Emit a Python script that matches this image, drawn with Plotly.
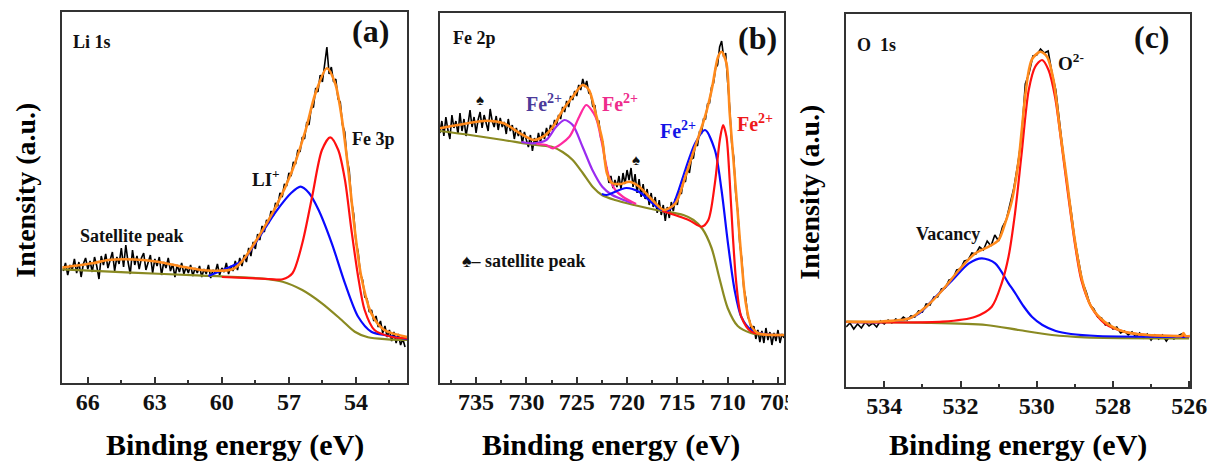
import numpy as np
import plotly.graph_objects as go

FONT = "Liberation Serif, Times New Roman, serif"
W, H = 1231, 466

# ---------------- Panel (a): Li 1s ----------------
A_RAW_START, A_RAW_STEP = 67.1, -0.1
A_RAW_I = [112, 120, 108, 118, 113, 124, 110, 121, 106, 119,
           125, 114, 122, 111, 126, 117, 104, 127, 118, 129,
           115, 124, 131, 112, 126, 119, 135, 116, 138, 121,
           109, 133, 118, 127, 114, 125, 130, 113, 122, 128,
           110, 124, 117, 126, 108, 121, 115, 125, 112, 119,
           106, 118, 111, 120, 109, 116, 110, 118, 107, 115,
           110, 117, 106, 114, 109, 118, 105, 113, 110, 119,
           108, 115, 111, 120, 109, 117, 112, 122, 113, 125,
           117, 128, 121, 135, 127, 141, 134, 149, 143, 157,
           151, 163, 160, 172, 167, 180, 177, 190, 186, 199,
           197, 210, 207, 221, 219, 233, 231, 246, 244, 261,
           258, 275, 276, 295, 291, 308, 301, 318, 336, 309,
           316, 301, 304, 284, 281, 258, 251, 224, 213, 182,
           169, 141, 131, 109, 103, 86, 84, 71, 73, 62,
           67, 56, 62, 50, 57, 46, 53, 42, 51, 40,
           49, 38, 44, 36]
A_BG_E = [67.15, 64.05, 61.11, 58.16, 57.28, 56.40, 55.52, 54.64, 54.05, 53.46, 52.58, 51.70]
A_BG_I = [113.7, 110.3, 107.7, 104.3, 101.3, 93, 79.7, 63, 51.3, 45.7, 43.7, 43]
A_LI_E = [60.6, 59.78, 59.05, 58.31, 57.58, 56.9, 56.48, 56.1, 55.67, 55.08, 54.49, 53.90, 53.31, 52.73, 51.71]
A_LI_I = [107, 114.7, 123, 146.3, 171.3, 190, 196.3, 190, 173, 139.7, 99.7, 66.3, 51.3, 48, 44]
A_FE_E = [60.0, 57.90, 57.28, 56.84, 56.40, 55.96, 55.52, 55.15, 54.79, 54.49, 54.20, 53.90, 53.61, 53.17, 52.43, 51.71]
A_FE_I = [106, 104, 103.7, 109.7, 139.7, 186.3, 233, 245.7, 233, 203, 153, 106.3, 73, 53, 46.3, 44.7]
A_FIT_E = [67.14, 65.81, 65.08, 63.90, 62.87, 61.69, 60.67, 59.49, 59.05, 58.31, 57.58, 56.84, 56.25,
           55.81, 55.30, 54.93, 54.64, 54.34, 54.05, 53.76, 53.31, 52.73, 51.70]
A_FIT_I = [115.5, 119.7, 123, 123.5, 121.3, 116, 112.5, 114, 123, 148, 176.3, 213, 253,
           289.7, 314.7, 299.7, 266.3, 213, 153, 106.3, 69.7, 53, 46]
A_TICKS = [66, 63, 60, 57, 54]
A_MINOR = [64.5, 61.5, 58.5, 55.5, 52.5]

# ---------------- Panel (b): Fe 2p ----------------
B_RAW_START, B_RAW_STEP = 738.6, -0.2
B_RAW_I = [250, 262, 247, 266, 253, 244, 268, 255, 262, 249,
           270, 252, 264, 247, 259, 273, 256, 266, 250, 263,
           271, 255, 268, 260, 252, 274, 262, 256, 267, 253,
           265, 256, 261, 249, 264, 252, 258, 244, 255, 247,
           253, 240, 251, 243, 236, 248, 232, 245, 238, 250,
           241, 251, 244, 255, 247, 258, 253, 263, 258, 268,
           264, 276, 271, 282, 276, 287, 283, 292, 287, 298,
           293, 304, 296, 302, 290, 289, 276, 278, 262, 262,
           244, 241, 222, 214, 200, 207, 195, 203, 196, 207,
           194, 210, 199, 213, 203, 215, 196, 209, 190, 204,
           186, 199, 184, 194, 178, 190, 176, 186, 170, 183,
           168, 178, 162, 176, 165, 181, 172, 184, 178, 192,
           189, 203, 201, 215, 210, 224, 225, 239, 237, 251,
           250, 264, 264, 279, 280, 296, 300, 315, 318, 336,
           342, 326, 330, 301, 276, 240, 226, 190, 172, 140,
           124, 95, 85, 66, 62, 50, 57, 44, 53, 41,
           52, 40, 55, 43, 51, 38, 50, 42, 53, 40,
           49, 45]
B_BG_E = [738.6, 735.6, 732.3, 729.1, 727.4, 726.4, 725.4, 724.4, 723.4, 722.5, 721.2, 719.3, 717.1,
          714.4, 713.4, 712.5, 711.6, 710.8, 710.0, 709.0, 707.7, 706.9, 704.4]
B_BG_I = [252, 248, 243, 238, 236, 231, 223, 210, 196, 188, 183, 178, 173,
          168, 163, 154, 135, 104, 75, 57, 50, 48.5, 48]
B_P1_E = [730.5, 729.32, 728.02, 727.04, 726.22, 725.40, 724.42, 723.44, 722.46, 721.48, 720.57, 719.5]
B_P1_I = [241, 239.7, 243, 256.3, 263, 258, 236.3, 213, 196.3, 188, 184, 180]
B_P2_E = [729.0, 728.02, 727.36, 725.73, 724.75, 724.05, 723.12, 722.53, 721.85, 721.16, 720.38, 719.1]
B_P2_I = [239, 238, 234.7, 246.3, 266.3, 278, 266, 242, 208, 193, 186, 179]
B_P3_E = [722.5, 722.04, 720.08, 718.78, 717.15, 716.17, 715.51, 714.86, 714.21, 713.23, 712.25,
          711.27, 710.61, 709.97, 709.31, 708.65, 707.67, 706.37, 704.4]
B_P3_I = [189, 188, 195, 191, 177, 171.3, 176.3, 193, 213, 239.7, 253,
          233, 193, 139.7, 93, 66.3, 53, 49, 48]
B_P4_E = [716.5, 713.88, 712.57, 711.92, 711.27, 710.78, 710.46, 710.12, 709.80, 709.48, 709.14,
          708.65, 707.67, 705.71, 704.4]
B_P4_I = [172, 163, 156.3, 163, 199.7, 243, 258, 246.3, 203, 146.3, 99.7,
          66.3, 51.3, 48, 48]
B_FIT_E = [738.62, 736.83, 733.89, 732.26, 730.63, 729.32, 728.34, 727.36, 726.38, 725.40, 724.42,
           723.78, 723.12, 722.46, 722.0, 721.5, 720.6, 719.76, 718.78, 717.47, 716.33, 715.19,
           714.21, 713.23, 712.25, 711.59, 710.95, 710.61, 710.12, 709.8, 709.4, 709.0, 708.6,
           708.2, 707.7, 707.0, 704.4]
B_FIT_I = [254.7, 258, 262.3, 259.7, 249.7, 243, 246.3, 256.3, 273, 286.3, 298,
           293, 269.7, 243, 210, 200, 199, 201.3, 196.3, 183, 173, 179.7,
           206.3, 236.3, 266.3, 293, 326.3, 331.3, 319.7, 270, 220, 170, 120,
           80, 58, 50, 48]
B_TICKS = [735, 730, 725, 720, 715, 710, 705]
B_MINOR = [737.5, 732.5, 727.5, 722.5, 717.5, 712.5, 707.5]

# ---------------- Panel (c): O 1s ----------------
C_RAW_START, C_RAW_STEP = 535.0, -0.1
C_RAW_I = [60, 64, 58, 63, 59, 65, 61, 64, 60, 66,
           63, 67, 64, 68, 66, 70, 67, 71, 70, 76,
           75, 83, 82, 90, 90, 98, 99, 107, 108, 117,
           118, 126, 127, 134, 133, 140, 137, 146, 141, 152,
           146, 160, 167, 184, 199, 222, 249, 303, 314, 331,
           332, 338, 334, 336, 314, 297, 261, 232, 202, 177,
           147, 124, 105, 95, 82, 78, 70, 69, 62, 64,
           58, 60, 54, 56, 52, 55, 50, 54, 49, 53,
           47, 52, 48, 52, 46, 51, 48, 51, 53, 49,
           51]
C_BG_E = [535.0, 533.06, 531.33, 530.47, 529.60, 528.74, 526.0]
C_BG_I = [65.3, 64.3, 62, 57, 52, 49.7, 48.7]
C_VAC_E = [535.0, 534.20, 533.51, 533.08, 532.65, 532.21, 531.78, 531.44, 531.09, 530.74, 530.55,
           530.35, 530.12, 529.85, 529.5, 529.1, 528.4, 526.0]
C_VAC_I = [65, 64.7, 67, 73.7, 90.3, 107, 123.7, 128.7, 123.7, 103.7, 93,
           81, 70, 62, 56, 53, 51, 50]
C_O2_E = [535.0, 532.47, 531.61, 531.18, 530.92, 530.74, 530.57, 530.40, 530.21, 530.04, 529.86,
          529.69, 529.52, 529.34, 529.17, 529.0, 528.83, 528.57, 528.22, 527.70, 527.10, 526.0]
C_O2_I = [65, 65.3, 70.3, 80.3, 103.7, 130.3, 173.7, 232, 297, 320.3, 327,
          317, 290.3, 240.3, 190.3, 143.7, 107, 80.3, 63.7, 55.3, 52, 51]
C_FIT_E = [535.0, 534.20, 533.33, 532.90, 532.47, 532.04, 531.61, 531.26, 531.00, 530.83, 530.66,
           530.48, 530.40, 530.30, 530.21, 530.12, 529.91, 529.73, 529.56, 529.39, 529.21, 529.04,
           528.83, 528.57, 528.22, 527.70, 527.10, 526.41, 526.20, 526.15, 526.10, 525.98]
C_FIT_I = [65.3, 65.3, 68.7, 80.3, 97, 117, 133.7, 140.3, 147, 163.7, 185,
           225, 254, 292, 316, 328, 335.3, 330.3, 307, 257, 207, 157,
           110.3, 80.3, 65.3, 55.3, 52, 51, 51, 54, 51, 51]
C_TICKS = [534, 532, 530, 528, 526]
C_MINOR = [533, 531, 529, 527]

BLACK = "#000000"
ORANGE = "#ff8a1c"
OLIVE = "#8a8a22"
BLUE = "#0a0aff"
RED = "#ff1010"
PURPLE = "#9a2cf0"
PINK = "#ff2aa0"

fig = go.Figure()


def add_line(x, y, color, width, xa, ya, shape="spline"):
    fig.add_trace(go.Scatter(
        x=x, y=y, mode="lines",
        line=dict(color=color, width=width, shape=shape, smoothing=0.8),
        xaxis=xa, yaxis=ya, showlegend=False, hoverinfo="skip"))


def grid(start, step, n):
    return np.round(start + step * np.arange(n), 3)


# Panel a
add_line(grid(A_RAW_START, A_RAW_STEP, len(A_RAW_I)), A_RAW_I, BLACK, 1.6, "x", "y", "linear")
add_line(A_BG_E, A_BG_I, OLIVE, 2.2, "x", "y")
add_line(A_LI_E, A_LI_I, BLUE, 2.2, "x", "y")
add_line(A_FE_E, A_FE_I, RED, 2.2, "x", "y")
add_line(A_FIT_E, A_FIT_I, ORANGE, 2.6, "x", "y")

# Panel b
add_line(grid(B_RAW_START, B_RAW_STEP, len(B_RAW_I)), B_RAW_I, BLACK, 1.6, "x2", "y2", "linear")
add_line(B_BG_E, B_BG_I, OLIVE, 2.2, "x2", "y2")
add_line(B_P1_E, B_P1_I, PURPLE, 2.2, "x2", "y2")
add_line(B_P2_E, B_P2_I, PINK, 2.2, "x2", "y2")
add_line(B_P3_E, B_P3_I, BLUE, 2.2, "x2", "y2")
add_line(B_P4_E, B_P4_I, RED, 2.2, "x2", "y2")
add_line(B_FIT_E, B_FIT_I, ORANGE, 2.6, "x2", "y2")

# Panel c
add_line(grid(C_RAW_START, C_RAW_STEP, len(C_RAW_I)), C_RAW_I, BLACK, 1.6, "x3", "y3", "linear")
add_line(C_BG_E, C_BG_I, OLIVE, 2.2, "x3", "y3")
add_line(C_VAC_E, C_VAC_I, BLUE, 2.2, "x3", "y3")
add_line(C_O2_E, C_O2_I, RED, 2.2, "x3", "y3")
add_line(C_FIT_E, C_FIT_I, ORANGE, 2.6, "x3", "y3")

FRAME = "#333333"


def xax(dom, rng, ticks, minor, anchor):
    return dict(domain=dom, range=rng, anchor=anchor, tickmode="array", tickvals=ticks,
                ticks="inside", ticklen=6, tickwidth=1.5, tickcolor=FRAME,
                minor=dict(tickmode="array", tickvals=minor, ticks="inside", ticklen=3,
                           tickwidth=1.5, tickcolor=FRAME),
                showline=True, linecolor=FRAME, linewidth=1.7, mirror=True,
                showgrid=False, zeroline=False, ticklabelstandoff=-4,
                tickfont=dict(family=FONT, size=24, color="#111", weight="bold"))


def yax(dom, rng, anchor):
    return dict(domain=dom, range=rng, anchor=anchor, showticklabels=False, ticks="",
                showline=True, linecolor=FRAME, linewidth=1.7, mirror=True,
                showgrid=False, zeroline=False)


def px(x):
    return x / W


def py(y):
    return 1 - y / H


fig.update_layout(
    width=W, height=H, margin=dict(l=0, r=0, t=0, b=0),
    paper_bgcolor="white", plot_bgcolor="white",
    xaxis=xax([px(63), px(413)], [67.15, 51.7], A_TICKS, A_MINOR, "y"),
    yaxis=yax([py(383), py(12)], [0, 371], "x"),
    xaxis2=xax([px(446), px(795)], [738.6, 704.4], B_TICKS, B_MINOR, "y2"),
    yaxis2=yax([py(383), py(13)], [0, 370], "x2"),
    xaxis3=xax([px(858), px(1207)], [535.0, 525.97], C_TICKS, C_MINOR, "y3"),
    yaxis3=yax([py(387), py(14)], [0, 373], "x3"),
)

ann = []


def text(x, y, s, xr, yr, size, color="#111", **kw):
    ann.append(dict(x=x, y=y, xref=xr, yref=yr, text=s, showarrow=False,
                    font=dict(family=FONT, size=size, color=color, weight="bold"),
                    xanchor="center", yanchor="middle", **kw))


# Panel a labels
text(65.83, 341, "Li 1s", "x", "y", 18)
text(53.34, 352, "(a)", "x", "y", 32)
text(53.21, 244, "Fe 3p", "x", "y", 18)
text(58.02, 205, "LI<sup>+</sup>", "x", "y", 19)
text(64.02, 147, "Satellite peak", "x", "y", 18)

# Panel b labels
text(735.17, 345, "Fe 2p", "x2", "y2", 18)
text(707.07, 345, "(b)", "x2", "y2", 32)
text(734.58, 283, "♠", "x2", "y2", 15)
text(719.10, 223, "♠", "x2", "y2", 15)
text(728.21, 280, "Fe<sup>2+</sup>", "x2", "y2", 20, color="#4b3a9a")
text(720.67, 280, "Fe<sup>2+</sup>", "x2", "y2", 20, color="#ee2c8c")
text(714.89, 253, "Fe<sup>2+</sup>", "x2", "y2", 20, color="#1414e6")
text(707.25, 260, "Fe<sup>2+</sup>", "x2", "y2", 20, color="#ee1a1a")
text(730.27, 122, "♠– satellite peak", "x2", "y2", 18)

# Panel c labels
text(534.21, 342, "O  1s", "x3", "y3", 18)
text(526.98, 350, "(c)", "x3", "y3", 32)
text(529.10, 325, "O<sup>2-</sup>", "x3", "y3", 19)
text(532.32, 153, "Vacancy", "x3", "y3", 18)

# Axis titles
for cx in (238, 620, 1032):
    text(px(cx), py(445), "Binding energy (eV)", "paper", "paper", 30, color="#000")
for cx, cy in ((25, 190), (820, 192)):
    text(px(cx), py(cy), "Intensity (a.u.)", "paper", "paper", 28, color="#000", textangle=-90)

fig.update_layout(annotations=ann)

# the last tick label of panel (b) is cut by the neighbouring panel in the source image
fig.add_shape(type="rect", xref="paper", yref="paper", x0=px(799), x1=px(850),
              y0=py(428), y1=py(386), fillcolor="white", line=dict(width=0), layer="above")

fig.write_html("out.html")
